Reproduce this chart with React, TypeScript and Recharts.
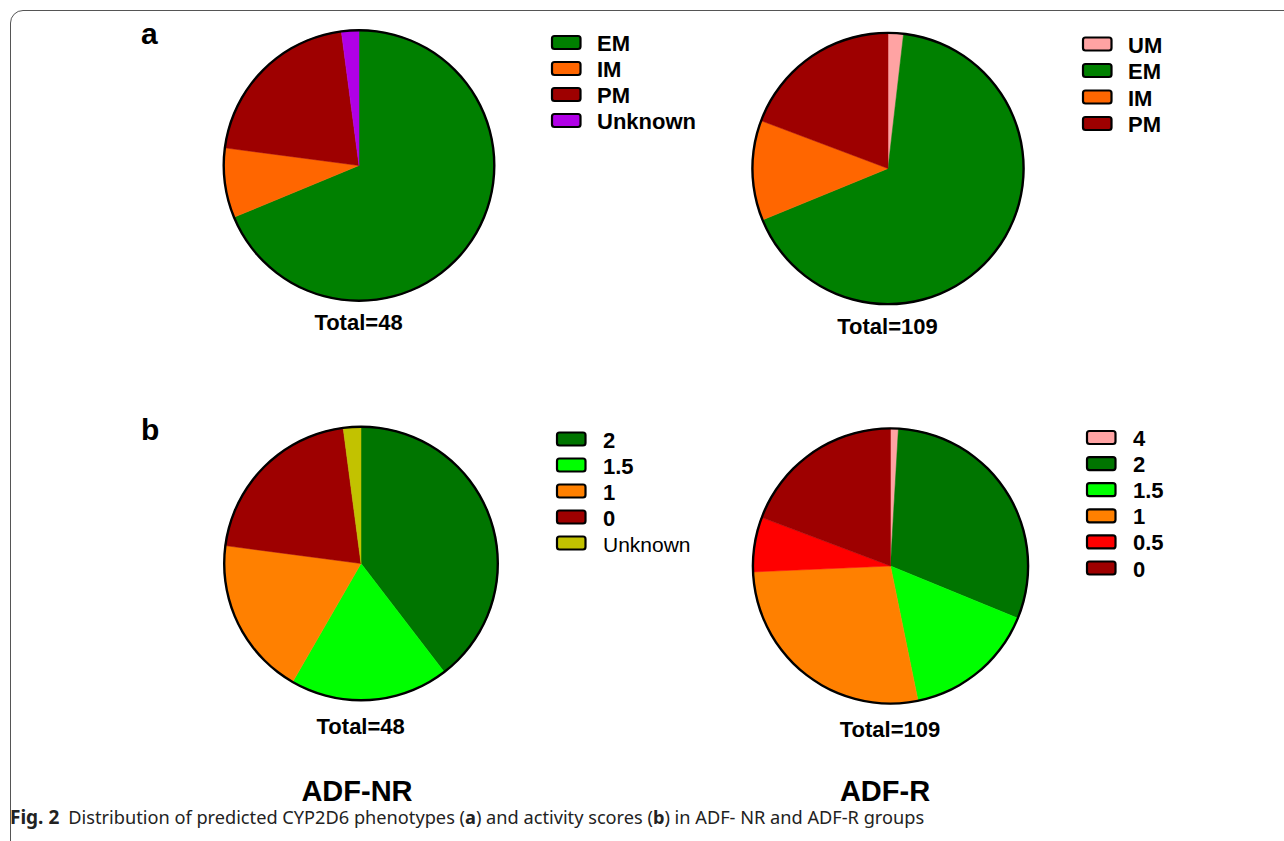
import React from 'react';
import { PieChart, Pie, Cell } from 'recharts';

// ---- Data ----
const phenoNRLabels = ['EM', 'IM', 'PM', 'Unknown'];
const phenoNRValues = [33, 4, 10, 1];
const phenoNRColors = ['#008000', '#FF6600', '#9E0000', '#B000E6'];

const phenoRLabels = ['UM', 'EM', 'IM', 'PM'];
const phenoRValues = [2, 73, 13, 21];
const phenoRColors = ['#FFA3A3', '#008000', '#FF6600', '#9E0000'];

const scoreNRLabels = ['2', '1.5', '1', '0', 'Unknown'];
const scoreNRValues = [19, 9, 9, 10, 1];
const scoreNRColors = ['#007500', '#00FF00', '#FF8000', '#9E0000', '#C2C200'];

const scoreRLabels = ['4', '2', '1.5', '1', '0.5', '0'];
const scoreRValues = [1, 33, 17, 30, 7, 21];
const scoreRColors = ['#FFA3A3', '#007500', '#00FF00', '#FF8000', '#FF0000', '#9E0000'];

const totals = ['Total=48', 'Total=109', 'Total=48', 'Total=109'];
const groupLabels = ['ADF-NR', 'ADF-R'];
const panelLabels = ['a', 'b'];

const toData = (labels: string[], values: number[]) =>
  labels.map((name, i) => ({ name, value: values[i] }));

const ringData = [{ name: 'border', value: 1 }];

const FONT = '"Liberation Sans", Arial, sans-serif';

type PieSpec = {
  labels: string[];
  values: number[];
  colors: string[];
  cx: number;
  cy: number;
  r: number;
};

const pies: PieSpec[] = [
  { labels: phenoNRLabels, values: phenoNRValues, colors: phenoNRColors, cx: 359, cy: 165.5, r: 136.5 },
  { labels: phenoRLabels, values: phenoRValues, colors: phenoRColors, cx: 888, cy: 168.5, r: 136.8 },
  { labels: scoreNRLabels, values: scoreNRValues, colors: scoreNRColors, cx: 361, cy: 563.5, r: 138 },
  { labels: scoreRLabels, values: scoreRValues, colors: scoreRColors, cx: 890.5, cy: 566, r: 138.8 },
];

type LegendSpec = {
  labels: string[];
  colors: string[];
  x: number;
  y: number;
  step: number;
  textX: number;
  regular?: string[];
};

const legends: LegendSpec[] = [
  { labels: phenoNRLabels, colors: phenoNRColors, x: 551, y: 35, step: 26, textX: 597 },
  { labels: phenoRLabels, colors: phenoRColors, x: 1082, y: 36.5, step: 26.5, textX: 1128 },
  { labels: scoreNRLabels, colors: scoreNRColors, x: 556, y: 431.5, step: 26, textX: 603, regular: ['Unknown'] },
  { labels: scoreRLabels, colors: scoreRColors, x: 1086, y: 430, step: 26.1, textX: 1133 },
];

const totalPos = [
  { x: 358.5, y: 330 },
  { x: 887.5, y: 334 },
  { x: 360.7, y: 734 },
  { x: 890, y: 736.5 },
];

export default function App() {
  return (
    <div style={{ position: 'absolute', left: 0, top: 0, width: 1284, height: 841, background: '#fff', overflow: 'hidden' }}>
      <div
        style={{
          position: 'absolute',
          left: 10,
          top: 10,
          width: 1320,
          height: 880,
          border: '1.5px solid #555',
          borderRadius: 13,
          boxSizing: 'border-box',
        }}
      />
      <div style={{ position: 'absolute', left: 0, top: 0 }}>
        <PieChart width={1284} height={841} margin={{ top: 0, right: 0, bottom: 0, left: 0 }}>
          {pies.map((p, i) => (
            <Pie
              key={'pie' + i}
              data={toData(p.labels, p.values)}
              dataKey="value"
              nameKey="name"
              cx={p.cx}
              cy={p.cy}
              innerRadius={0}
              outerRadius={p.r - 1}
              startAngle={90}
              endAngle={-270}
              isAnimationActive={false}
              stroke="none"
              label={false}
              labelLine={false}
            >
              {p.values.map((_, j) => (
                <Cell key={j} fill={p.colors[j]} stroke={p.colors[j]} strokeWidth={0.5} />
              ))}
            </Pie>
          ))}
          {pies.map((p, i) => (
            <Pie
              key={'ring' + i}
              data={ringData}
              dataKey="value"
              cx={p.cx}
              cy={p.cy}
              innerRadius={p.r - 2.4}
              outerRadius={p.r}
              startAngle={90}
              endAngle={-270}
              isAnimationActive={false}
              fill="#000"
              stroke="none"
              label={false}
              labelLine={false}
            />
          ))}
        </PieChart>
      </div>
      <svg
        width={1284}
        height={841}
        style={{ position: 'absolute', left: 0, top: 0, pointerEvents: 'none' }}
      >
        <text x={141} y={44} fontFamily={FONT} fontWeight="bold" fontSize={30} fill="#000">
          {panelLabels[0]}
        </text>
        <text x={141} y={440} fontFamily={FONT} fontWeight="bold" fontSize={30} fill="#000">
          {panelLabels[1]}
        </text>
        {legends.map((lg, i) => (
          <g key={'lg' + i}>
            {lg.labels.map((lab, j) => (
              <g key={j}>
                <rect
                  x={lg.x + 1}
                  y={lg.y + j * lg.step + 1}
                  width={28.5}
                  height={13}
                  rx={2.5}
                  ry={2.5}
                  fill={lg.colors[j]}
                  stroke="#000"
                  strokeWidth={2.2}
                />
                <text
                  x={lg.textX}
                  y={lg.y + j * lg.step + 16}
                  fontFamily={FONT}
                  fontWeight={lg.regular && lg.regular.includes(lab) ? 'normal' : 'bold'}
                  fontSize={lg.regular && lg.regular.includes(lab) ? 21 : 22}
                  fill="#000"
                >
                  {lab}
                </text>
              </g>
            ))}
          </g>
        ))}
        {totals.map((t, i) => (
          <text
            key={'t' + i}
            x={totalPos[i].x}
            y={totalPos[i].y}
            textAnchor="middle"
            fontFamily={FONT}
            fontWeight="bold"
            fontSize={22}
            fill="#000"
          >
            {t}
          </text>
        ))}
        <text x={357} y={801} textAnchor="middle" fontFamily={FONT} fontWeight="bold" fontSize={29} fill="#000">
          {groupLabels[0]}
        </text>
        <text x={885} y={801} textAnchor="middle" fontFamily={FONT} fontWeight="bold" fontSize={29} fill="#000">
          {groupLabels[1]}
        </text>
        <text x={10} y={824} fontFamily='"Noto Sans", "Open Sans", sans-serif' fontSize={18.2} fill="#222">
          <tspan fontWeight="bold" fontSize={19}>Fig. 2</tspan>
          <tspan dx={9}>Distribution of predicted CYP2D6 phenotypes (</tspan>
          <tspan fontWeight="bold">a</tspan>
          <tspan>) and activity scores (</tspan>
          <tspan fontWeight="bold">b</tspan>
          <tspan>) in ADF- NR and ADF-R groups</tspan>
        </text>
      </svg>
    </div>
  );
}
